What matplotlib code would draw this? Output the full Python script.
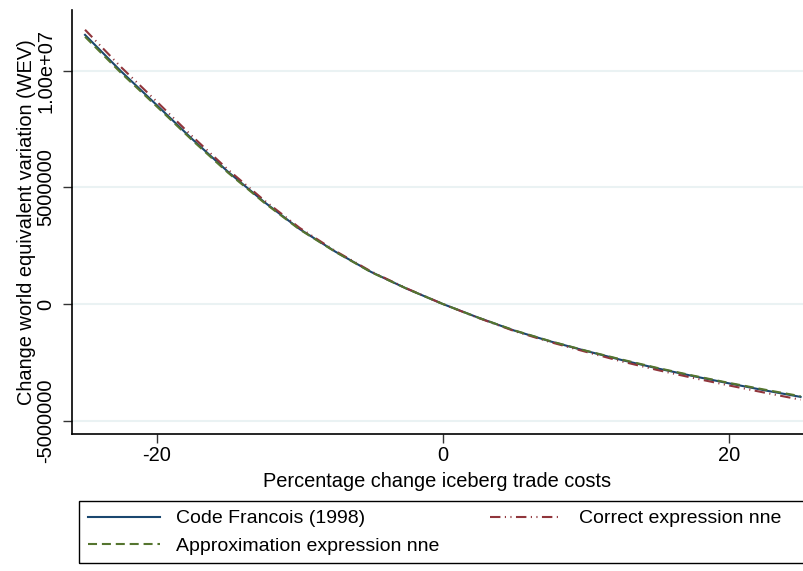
import matplotlib
matplotlib.use("Agg")
import matplotlib.pyplot as plt
from matplotlib.patches import Rectangle

plt.rcParams['font.family'] = ['Liberation Sans', 'DejaVu Sans']
plt.rcParams['lines.scale_dashes'] = False

# data (values in units of 1e6)
x_pct = [-25, -22.5, -20, -17.5, -15, -12.5, -10, -7.5, -5, -2.5, 0,
         2.5, 5, 7.5, 10, 12.5, 15, 17.5, 20, 22.5, 25]
code_francois = [11.53, 9.98, 8.53, 7.06, 5.66, 4.38, 3.21, 2.24, 1.37, 0.65, 0.0,
                 -0.59, -1.14, -1.60, -2.01, -2.40, -2.76, -3.09, -3.40, -3.70, -3.98]
correct_nne = [11.75, 10.16, 8.68, 7.18, 5.75, 4.45, 3.26, 2.27, 1.39, 0.66, 0.0,
               -0.60, -1.16, -1.63, -2.05, -2.46, -2.83, -3.17, -3.49, -3.80, -4.10]
approx_nne = [11.45, 9.91, 8.47, 7.01, 5.62, 4.35, 3.19, 2.23, 1.36, 0.65, 0.0,
              -0.59, -1.13, -1.59, -2.00, -2.38, -2.74, -3.07, -3.38, -3.67, -3.95]
yticks = [-5e6, 0, 5e6, 1e7]
ytick_labels = ['-5000000', '0', '5000000', '1.00e+07']
xticks = [-20, 0, 20]
xtick_labels = ['-20', '0', '20']
labels = ['Code Francois (1998)', 'Correct expression nne', 'Approximation expression nne']

navy = '#1a476f'
maroon = '#90353b'
green = '#55752f'

W, H = 804, 571
fig = plt.figure(figsize=(W / 100, H / 100), dpi=100)
ax = fig.add_axes([72 / W, (H - 434) / H, (803 - 72) / W, (434 - 10) / H])

fs = 14.4
lfs = 14.0
s = 1e6
l1, = ax.plot(x_pct, [v * s for v in code_francois], color=navy, lw=1.5, zorder=3)
l2, = ax.plot(x_pct, [v * s for v in correct_nne], color=maroon, lw=1.5,
              linestyle=(0, (7.5, 3.2, 0.8, 3.2, 0.8, 3.2)), zorder=4)
l3, = ax.plot(x_pct, [v * s for v in approx_nne], color=green, lw=1.5,
              linestyle=(0, (6.5, 3.5)), zorder=5)

ax.set_xlim(-25.91, 25.17)
ax.set_ylim(-5.57e6, 12.596e6)

ax.set_yticks(yticks)
ax.set_yticklabels(ytick_labels, rotation=90, va='center', fontsize=fs)
ax.set_xticks(xticks)
ax.set_xticklabels(xtick_labels, fontsize=fs)
ax.tick_params(axis='both', length=6.5, width=1.0, color='#333333', pad=2)
ax.tick_params(axis='y', pad=5.5)
ax.grid(axis='y', color='#eaf2f3', lw=1.5)
ax.set_axisbelow(True)

for side in ['top', 'right']:
    ax.spines[side].set_visible(False)
for side in ['left', 'bottom']:
    ax.spines[side].set_linewidth(1.2)
    ax.spines[side].set_color('#000000')

ax.set_ylabel('Change world equivalent variation (WEV)', fontsize=fs, labelpad=0.5)
ax.set_xlabel('Percentage change iceberg trade costs', fontsize=fs, labelpad=5)

leg = fig.legend([l1, l3, l2], [labels[0], labels[2], labels[1]], ncol=2,
                 loc='upper left', bbox_to_anchor=(79 / W, (H - 501) / H),
                 fontsize=lfs, frameon=False, borderaxespad=0,
                 handlelength=3.7, handletextpad=0.85, columnspacing=2.6,
                 labelspacing=0.5, borderpad=0.45)

# legend frame extending past the right edge, as in the reference
fig.canvas.draw()
bb = leg.get_window_extent().transformed(fig.transFigure.inverted())
fig.add_artist(Rectangle((bb.x0, bb.y0), 1.05 - bb.x0, bb.height,
                         transform=fig.transFigure, fill=False,
                         edgecolor='#000000', lw=1.0, clip_on=False))

fig.savefig('out.png', dpi=100)
